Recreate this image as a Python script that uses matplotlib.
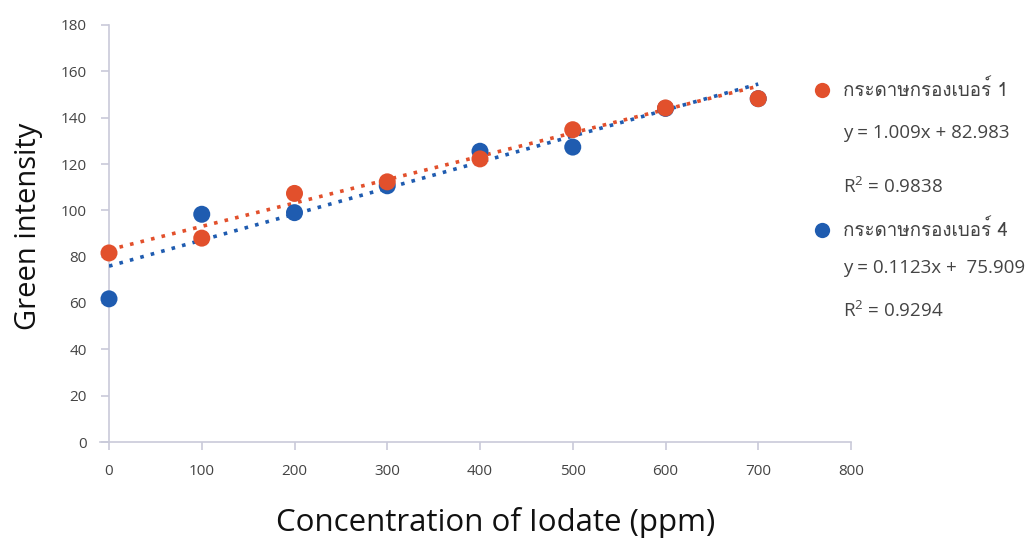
import matplotlib
matplotlib.use("Agg")
import matplotlib.pyplot as plt
from matplotlib import font_manager
from matplotlib.ft2font import FT2Font
from matplotlib.lines import Line2D
import numpy as np

# ---- data ----
conc = [0, 100, 200, 300, 400, 500, 600, 700]
paper1 = [81.6, 88.0, 107.3, 112.3, 122.2, 134.8, 144.2, 148.2]
paper4 = [61.8, 98.3, 99.0, 110.6, 125.5, 127.3, 144.0, 148.2]
series_names = ["กระดาษกรองเบอร์ 1", "กระดาษกรองเบอร์ 4"]
fit_slope = [0.1009, 0.1123]
fit_intercept = [82.983, 75.909]
eq_labels = ["y = 1.009x + 82.983", "y = 0.1123x +  75.909"]
r2_labels = ["R$^2$ = 0.9838", "R$^2$ = 0.9294"]
xticks = [0, 100, 200, 300, 400, 500, 600, 700, 800]
yticks = [0, 20, 40, 60, 80, 100, 120, 140, 160, 180]

orange = "#E2502C"
blue = "#1F5CB0"
axis_col = "#C9CAD9"
text_col = "#444444"

# find a font with Thai glyphs
thai_family = None
for f in font_manager.fontManager.ttflist:
    try:
        ft = FT2Font(f.fname)
        cm = ft.get_charmap()
        if 0x0E01 in cm and 0x0E23 in cm:
            thai_family = f.name
            break
    except Exception:
        pass
base = "Open Sans"
thai_fams = [thai_family, base, "DejaVu Sans"] if thai_family else [base, "DejaVu Sans"]

plt.rcParams['font.family'] = [base, "DejaVu Sans"]
plt.rcParams['mathtext.fontset'] = 'custom'
plt.rcParams['mathtext.rm'] = base

fig = plt.figure(figsize=(10.31, 5.39), dpi=100)
ax = fig.add_axes([109/1031, 1-442/539, (851-109)/1031, (442-25)/539])

ax.set_xlim(0, 800)
ax.set_ylim(0, 180)

x = np.array(conc)
ax.plot(x, fit_slope[1]*x + fit_intercept[1], linestyle=(0, (1, 2.0)), color=blue, lw=2.6, zorder=3)
ax.plot(x, fit_slope[0]*x + fit_intercept[0], linestyle=(0, (1, 2.0)), color=orange, lw=2.6, zorder=3)
ax.scatter(conc, paper4, s=150, color=blue, zorder=4, clip_on=False, edgecolors='none')
ax.scatter(conc, paper1, s=150, color=orange, zorder=5, clip_on=False, edgecolors='none')

for s in ["top", "right"]:
    ax.spines[s].set_visible(False)
for s in ["left", "bottom"]:
    ax.spines[s].set_color(axis_col)
    ax.spines[s].set_linewidth(1.2)
ax.spines["bottom"].set_bounds(-10, 800)

ax.set_xticks(xticks)
ax.set_yticks(yticks)
ax.tick_params(axis='both', colors=axis_col, length=6, width=1.2, labelcolor=text_col, labelsize=11)
ax.tick_params(axis='x', pad=10)
ax.tick_params(axis='y', pad=10)

fig.text(0.028, (1-226/539), "Green intensity", rotation=90, ha='center', va='center',
         fontsize=21, color="#111111")
fig.text(496/1031, 1-522/539, "Concentration of Iodate (ppm)", ha='center', va='center',
         fontsize=22.5, color="#111111")

# legend-like block
rows = [(90, 0, "name"), (133, 0, "eq"), (187, 0, "r2"), (230, 1, "name"), (268, 1, "eq"), (311, 1, "r2")]
cols = [orange, blue]
for ypix, i, kind in rows:
    yf = 1 - ypix/539
    if kind == "name":
        fig.add_artist(Line2D([822/1031], [yf], marker='o', markersize=11, color=cols[i],
                              markeredgewidth=0, linestyle='none', transform=fig.transFigure))
        fig.text(843/1031, yf, series_names[i], ha='left', va='center', fontsize=13.5,
                 color=text_col, family=thai_fams)
    elif kind == "eq":
        fig.text(843/1031, yf, eq_labels[i], ha='left', va='center', fontsize=13.5, color=text_col)
    else:
        fig.text(843/1031, yf, r2_labels[i], ha='left', va='center', fontsize=13.5, color=text_col)

fig.savefig("out.png", dpi=100, facecolor="white")
